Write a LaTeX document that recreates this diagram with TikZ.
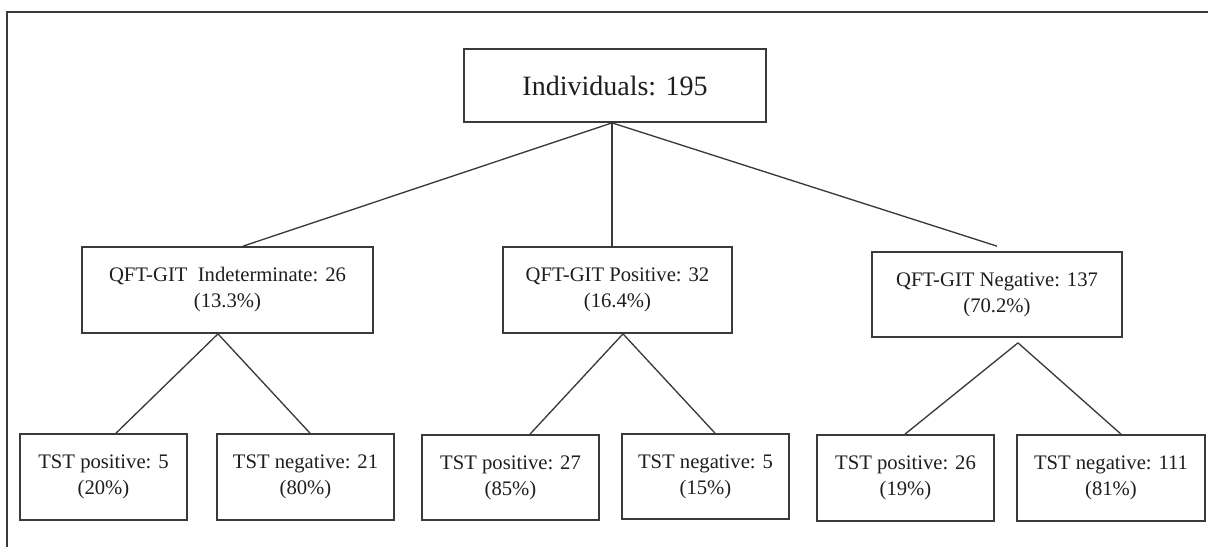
\documentclass[tikz,border=0pt]{standalone}
\usepackage{fontspec}
\setmainfont{Liberation Serif}
\usetikzlibrary{calc}
\definecolor{ink}{HTML}{3A3A3A}
\definecolor{txt}{HTML}{1E1E1E}
\begin{document}
\begin{tikzpicture}[x=0.75pt,y=-0.75pt,
  box/.style={draw=ink,line width=1.3pt,fill=white,inner sep=0pt,align=center,text=txt,
    font=\fontsize{15.5}{19.5}\selectfont},
  link/.style={draw=ink,line width=1pt}]
\useasboundingbox (0,0) rectangle (1208,547);
\fill[white] (0,0) rectangle (1208,547);
% outer frame (left and top only visible)
\draw[ink,line width=1.3pt] (7,547) -- (7,12) -- (1208,12);

% nodes
\node[box,minimum width=302*0.75pt,minimum height=73*0.75pt,font=\fontsize{21}{25}\selectfont]
  (top) at (615,85.5) {Individuals: 195};

\node[box,minimum width=291*0.75pt,minimum height=86*0.75pt] (m1) at (227.5,290)
  {QFT-GIT\ \ Indeterminate: 26\\(13.3\%)};
\node[box,minimum width=229*0.75pt,minimum height=86*0.75pt] (m2) at (617.5,290)
  {QFT-GIT Positive: 32\\(16.4\%)};
\node[box,minimum width=250*0.75pt,minimum height=85*0.75pt] (m3) at (997,294.5)
  {QFT-GIT Negative: 137\\(70.2\%)};

\node[box,minimum width=167*0.75pt,minimum height=86*0.75pt] (b1) at (103.5,477)
  {TST positive: 5\\(20\%)};
\node[box,minimum width=177*0.75pt,minimum height=86*0.75pt] (b2) at (305.5,477)
  {TST negative: 21\\(80\%)};
\node[box,minimum width=177*0.75pt,minimum height=85*0.75pt] (b3) at (510.5,477.5)
  {TST positive: 27\\(85\%)};
\node[box,minimum width=167*0.75pt,minimum height=85*0.75pt] (b4) at (705.5,476.5)
  {TST negative: 5\\(15\%)};
\node[box,minimum width=177*0.75pt,minimum height=86*0.75pt] (b5) at (905.5,478)
  {TST positive: 26\\(19\%)};
\node[box,minimum width=188*0.75pt,minimum height=86*0.75pt] (b6) at (1111,478)
  {TST negative: 111\\(81\%)};

% connectors
\draw[link] ($(top.south)+(-3,0)$) -- ($(m1.north)+(15.5,0)$);
\draw[link] ($(top.south)+(-3,0)$) -- ($(m2.north)+(-5.5,0)$);
\draw[link] ($(top.south)+(-3,0)$) -- ($(m3.north)+(0,-5)$);

\draw[link] ($(m1.south)+(-9.5,0)$) -- ($(b1.north)+(12.5,0)$);
\draw[link] ($(m1.south)+(-9.5,0)$) -- ($(b2.north)+(4.5,0)$);

\draw[link] ($(m2.south)+(5.5,0)$) -- ($(b3.north)+(19.5,0)$);
\draw[link] ($(m2.south)+(5.5,0)$) -- ($(b4.north)+(9.5,0)$);

\draw[link] ($(m3.south)+(21,5)$) -- ($(b5.north)+(-0.5,0)$);
\draw[link] ($(m3.south)+(21,5)$) -- ($(b6.north)+(10,0)$);
\end{tikzpicture}
\end{document}
